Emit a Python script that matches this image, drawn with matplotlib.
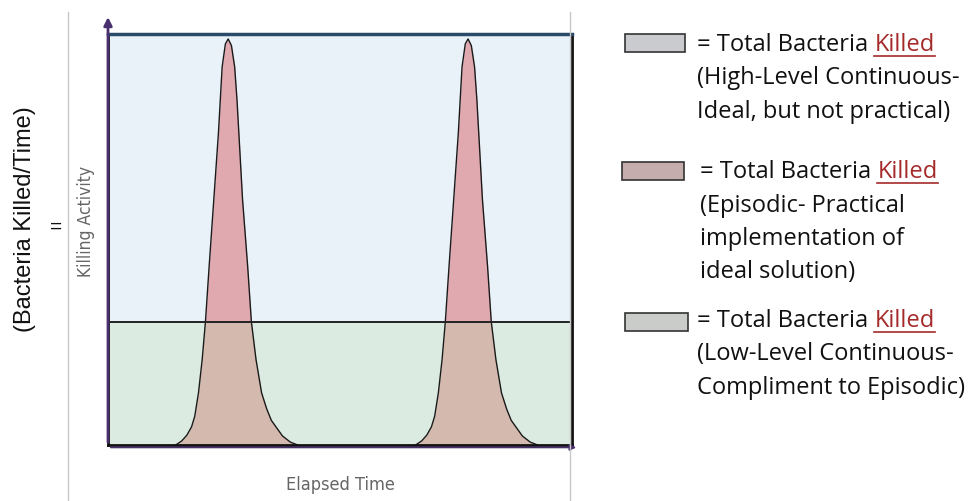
import numpy as np
import matplotlib
matplotlib.use("Agg")
import matplotlib.pyplot as plt
from matplotlib.lines import Line2D

# Box units: x 0-100 (elapsed time), y 0-100 (killing activity)
low_level = 30          # low-level continuous activity
high_level = 100        # high-level continuous activity

# Episodic peaks, points
peak1_x = [14.6, 15.9, 17.0, 18.0, 18.7, 19.5, 20.3, 21.0, 21.8, 22.8, 23.8, 24.6, 25.3,
           25.9, 26.6, 27.3, 27.8, 29.0, 30.1, 30.9, 31.9, 33.1, 34.2, 35.2, 37.6, 39.3, 40.9]
peak1_y = [0.0, 1.0, 2.4, 4.4, 7.0, 12.7, 20.8, 30.0, 43.5, 59.7, 75.9, 92.0, 97.6,
           98.8, 97.2, 92.0, 84.0, 59.7, 43.5, 30.0, 20.8, 12.7, 8.8, 6.0, 2.2, 0.7, 0.0]
peak2_x = [66.3, 67.6, 68.7, 69.7, 70.4, 71.2, 72.0, 72.7, 73.5, 74.5, 75.5, 76.3, 77.0,
           77.6, 78.3, 79.0, 79.5, 80.7, 81.8, 82.6, 83.6, 84.8, 85.9, 86.9, 89.3, 91.0, 92.6]
peak2_y = [0.0, 1.0, 2.4, 4.4, 7.0, 12.7, 20.8, 30.0, 43.5, 59.7, 75.9, 92.0, 97.6,
           98.8, 97.2, 92.0, 84.0, 59.7, 43.5, 30.0, 20.8, 12.7, 8.8, 6.0, 2.2, 0.7, 0.0]

legend_colors = ["#c9cbce", "#c6adad", "#c9ccc9"]
legend_lines = [
    ["(High-Level Continuous-", "Ideal, but not practical)"],
    ["(Episodic- Practical", "implementation of", "ideal solution)"],
    ["(Low-Level Continuous-", "Compliment to Episodic)"],
]

W, H = 971, 501
fig = plt.figure(figsize=(W / 100, H / 100), dpi=100)

# thin gray frame lines around the chart area
for px in (68, 570):
    fig.add_artist(Line2D([px / W, px / W], [0, 1 - 12 / H], color="#c8c8c8", lw=1))

ax = fig.add_axes([108 / W, (H - 445) / H, 464 / W, 411 / H])
ax.set_xlim(0, 100)
ax.set_ylim(0, 100)
ax.axhspan(low_level, high_level, color="#e9f1f9", zorder=0)
ax.axhspan(0, low_level, color="#dcebe2", zorder=0)

for px_, py_ in [(peak1_x, peak1_y), (peak2_x, peak2_y)]:
    px_ = np.array(px_)
    py_ = np.array(py_)
    ax.fill_between(px_, 0, np.minimum(py_, low_level), color="#d4b9af", lw=0, zorder=1)
    ax.fill_between(px_, low_level, np.maximum(py_, low_level), where=py_ >= low_level,
                    color="#e0a9b0", lw=0, zorder=1, interpolate=True)
    ax.plot(px_, py_, color="#1a1a1a", lw=1.0, zorder=2)

ax.axhline(low_level, color="#222222", lw=1.4, zorder=3)
ax.set_xticks([])
ax.set_yticks([])
for side in ["left", "right", "bottom"]:
    ax.spines[side].set_color("#111111")
    ax.spines[side].set_linewidth(2)
ax.spines["top"].set_color("#2a4a6a")
ax.spines["top"].set_linewidth(2.5)

# axis arrows
ax.annotate("", xy=(0, 104.8), xytext=(0, 0), annotation_clip=False,
            arrowprops=dict(arrowstyle="-|>", color="#4a2f6e", lw=2, mutation_scale=12))
ax.annotate("", xy=(101.5, -0.6), xytext=(0, -0.6), annotation_clip=False,
            arrowprops=dict(arrowstyle="-|>", color="#4a2f6e", lw=1.2, mutation_scale=9))

# axis texts
fig.text(25 / W, 1 - 219 / H, "(Bacteria Killed/Time)", rotation=90, ha="center", va="center",
         fontsize=17, family="Liberation Sans", color="#111111")
fig.text(56 / W, 1 - 227 / H, "=", ha="center", va="center",
         fontsize=15, family="Liberation Sans", color="#111111")
fig.text(86 / W, 1 - 221 / H, "Killing Activity", rotation=90, ha="center", va="center",
         fontsize=12.5, family="DejaVu Sans", fontstretch="condensed", color="#666666")
fig.text(340 / W, 1 - 485 / H, "Elapsed Time", ha="center", va="center",
         fontsize=13, family="DejaVu Sans", fontstretch="condensed", color="#666666")

# legend
swatches = [(625, 34, 60, 18), (622, 162, 62, 18), (625, 313, 63, 18)]
text_x = [697, 700, 697]
first_y = [45, 172, 321]
line_gap = 33.5
fs = 17
font = "Open Sans"

fig.canvas.draw()
renderer = fig.canvas.get_renderer()
for i in range(3):
    sx, sy, sw, sh = swatches[i]
    fig.add_artist(plt.Rectangle((sx / W, 1 - (sy + sh) / H), sw / W, sh / H,
                                 facecolor=legend_colors[i], edgecolor="#333333", lw=1.2,
                                 transform=fig.transFigure))
    y0 = 1 - first_y[i] / H
    full = fig.text(text_x[i] / W, y0, "= Total Bacteria Killed", fontsize=fs,
                    family=font, va="center", alpha=0)
    bb = full.get_window_extent(renderer)
    fig.text(text_x[i] / W, y0, "= Total Bacteria", fontsize=fs, family=font,
             va="center", color="#111111")
    k = fig.text(bb.x1 / W, y0, "Killed", fontsize=fs, family=font, va="center",
                 ha="right", color="#a52a2a")
    kb = k.get_window_extent(renderer)
    uy = (kb.y0 + 1) / H
    fig.add_artist(Line2D([kb.x0 / W, kb.x1 / W], [uy, uy], color="#a52a2a", lw=1.2))
    for j, line in enumerate(legend_lines[i]):
        fig.text(text_x[i] / W, 1 - (first_y[i] + (j + 1) * line_gap) / H, line,
                 fontsize=fs, family=font, va="center", color="#111111")

fig.savefig("out.png", dpi=100)
